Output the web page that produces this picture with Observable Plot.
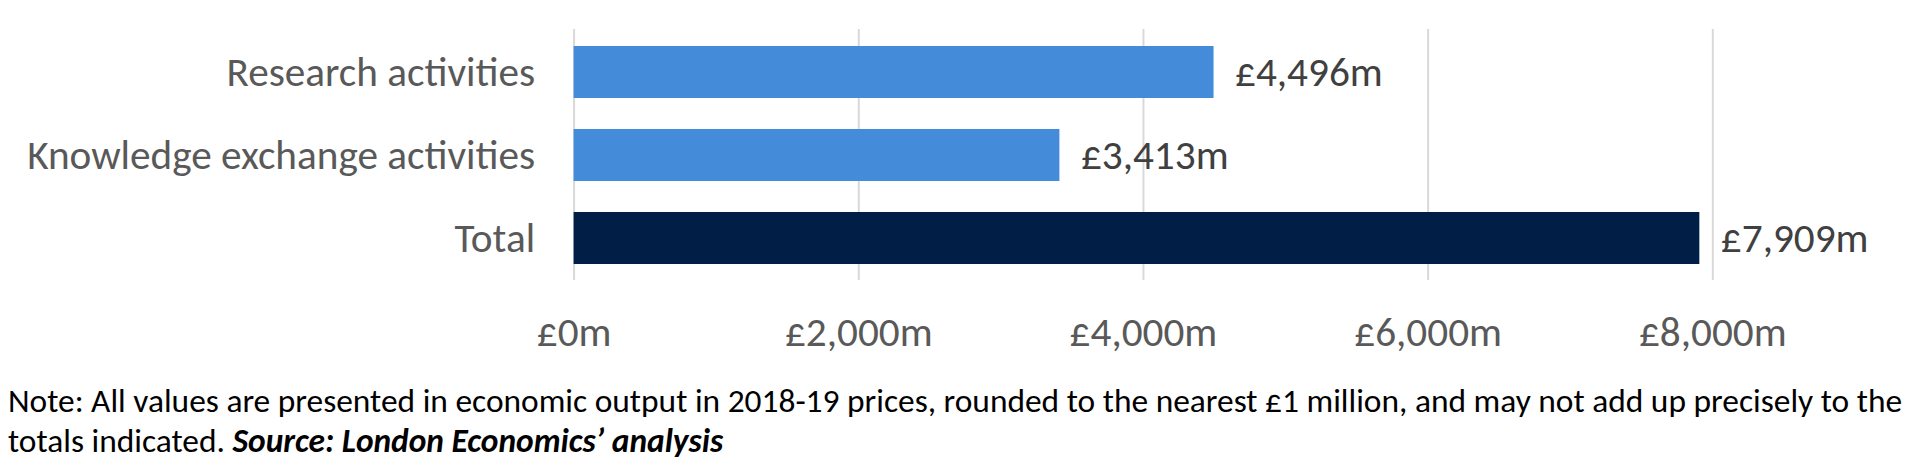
<!DOCTYPE html>
<html>
<head>
<meta charset="utf-8">
<script src="https://cdn.jsdelivr.net/npm/d3@7"></script>
<script src="https://cdn.jsdelivr.net/npm/@observablehq/plot@0.6"></script>
<style>
  body { margin: 0; background: #fff; }
  #chart svg, #note { display: block; }
</style>
</head>
<body>
<div id="chart"></div>
<svg id="note" width="1915" height="98"></svg>
<script>
// ---- data ----
const categories = ["Research activities", "Knowledge exchange activities", "Total"];
const values = [4496, 3413, 7909];
const valueLabels = ["£4,496m", "£3,413m", "£7,909m"];
const barColors = ["#448cd9", "#448cd9", "#011e46"];
const xTicks = [0, 2000, 4000, 6000, 8000];
const tickLabels = ["£0m", "£2,000m", "£4,000m", "£6,000m", "£8,000m"];
const noteLine1 = "Note: All values are presented in economic output in 2018-19 prices, rounded to the nearest £1 million, and may not add up precisely to the";
const noteLine2a = "totals indicated. ";
const noteLine2b = "Source: London Economics’ analysis";

const data = categories.map((c, i) => ({category: c, value: values[i], label: valueLabels[i], color: barColors[i]}));

// ---- font fitting (Calibri substitute) ----
const family = "Carlito, Lato, 'Open Sans', sans-serif";
const ctx = document.createElement("canvas").getContext("2d");
function fit(text, target, weight = "normal", style = "normal") {
  ctx.font = `${style} ${weight} 100px ${family}`;
  return 100 * target / ctx.measureText(text).width;
}
const fs = fit("Knowledge exchange activities", 508);
const noteFs = fit(noteLine1, 1895);

const height = 365, marginBottom = 85;
const plot = Plot.plot({
  width: 1915,
  height,
  marginLeft: 573.6,
  marginRight: 202.7,
  marginTop: 29,
  marginBottom,
  style: {fontFamily: family, fontSize: fs + "px", color: "#595959", background: "#fff"},
  x: {
    domain: [0, 8000],
    ticks: xTicks,
    tickFormat: d => tickLabels[xTicks.indexOf(d)],
    tickSize: 0,
    tickPadding: 65 - 0.71 * fs,
    label: null
  },
  y: {
    domain: categories,
    paddingInner: 0.375,
    paddingOuter: 0.185,
    tickSize: 0,
    tickPadding: 39,
    label: null
  },
  marks: [
    Plot.gridX(xTicks, {stroke: "#d9d9d9", strokeOpacity: 1, strokeWidth: 2}),
    Plot.barX(data, {x: "value", y: "category", fill: "color"}),
    Plot.text(data, {x: "value", y: "category", text: "label", textAnchor: "start", dx: 21, fill: "#404040"})
  ]
});
document.getElementById("chart").appendChild(plot);

// ---- note below the chart ----
const note = d3.select("#note")
  .attr("font-family", family)
  .attr("font-size", noteFs)
  .attr("fill", "#000");
note.append("text").attr("x", 8).attr("y", 46.7).text(noteLine1);
const t2 = note.append("text").attr("x", 8).attr("y", 86.7);
t2.append("tspan").text(noteLine2a);
t2.append("tspan").attr("font-weight", "bold").attr("font-style", "italic").text(noteLine2b);
</script>
</body>
</html>
